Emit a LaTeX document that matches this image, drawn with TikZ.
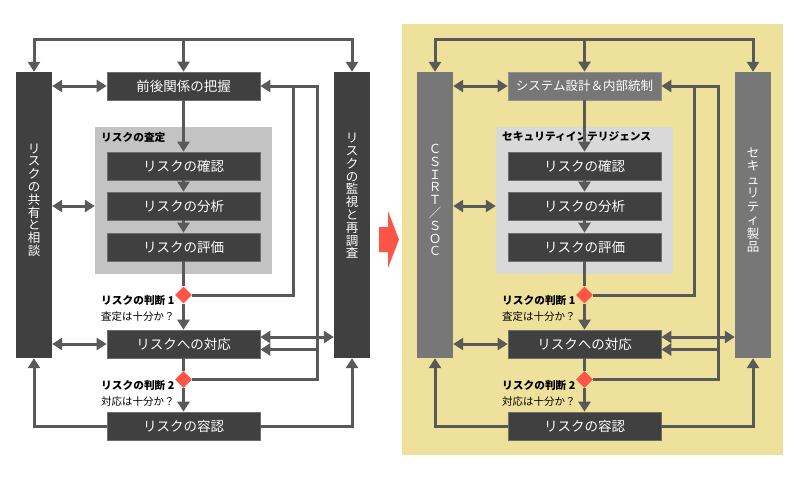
\documentclass[tikz,border=0pt]{standalone}
\usepackage{fontspec}
\setmainfont{Noto Sans CJK JP}
\usetikzlibrary{arrows.meta,shapes.geometric}
\definecolor{boxdark}{HTML}{404040}
\definecolor{boxedge}{HTML}{6E6E6E}
\definecolor{linegray}{HTML}{595959}
\definecolor{panelgray}{HTML}{C3C3C3}
\definecolor{panellight}{HTML}{D9D9D9}
\definecolor{midgray}{HTML}{777777}
\definecolor{warnred}{HTML}{FF5548}
\definecolor{sand}{HTML}{EEE19B}
\begin{document}
\begin{tikzpicture}[x=1pt,y=-1pt,
  dbox/.style={fill=boxdark, draw=boxedge, line width=0.7pt, minimum width=153pt, minimum height=28pt, inner sep=0pt, text=white, font=\fontsize{13.5}{14}\selectfont},
  mbox/.style={dbox, fill=midgray, draw=midgray!80!white},
  barbox/.style={fill=boxdark, minimum width=36pt, minimum height=286pt, inner sep=0pt},
  graybox/.style={fill=panelgray, minimum width=177pt, minimum height=147pt, inner sep=0pt},
  vtext/.style={text=white, align=center, inner sep=0pt, font=\fontsize{12.5}{12.8}\selectfont},
  glabel/.style={anchor=west, inner sep=0pt, font=\fontsize{10.7}{12}\selectfont\bfseries},
  qlabel/.style={anchor=west, inner sep=0pt, font=\fontsize{10.5}{12}\selectfont},
  dmd/.style={diamond, fill=warnred, minimum size=17pt, inner sep=0pt},
  flow/.style={draw=linegray, line width=3pt},
  arr/.style={flow, -{Triangle[width=12pt,length=10pt]}},
  darr/.style={flow, {Triangle[width=12pt,length=10pt]}-{Triangle[width=12pt,length=10pt]}}
]
\useasboundingbox (0,0) rectangle (800,480);
\fill[white] (0,0) rectangle (800,480);
\fill[sand] (402,24) rectangle (783,455);
% red transition arrow
\fill[warnred] (379,227) -- (388,227) -- (388,211) -- (399,239.5) -- (388,268) -- (388,252) -- (379,252) -- cycle;

% ---------------- left panel ----------------
\node[barbox] (aBarL) at (34,215) {};
\node[barbox] (aBarR) at (352,215) {};
\node[vtext] (aBarLt) at (34,200) {リ\\ス\\ク\\の\\共\\有\\と\\相\\談};
\node[vtext] (aBarRt) at (352,196) {リ\\ス\\ク\\の\\監\\視\\と\\再\\調\\査};
\node[dbox] (aTop) at (183.5,86) {前後関係の把握};
\node[graybox] (aGray) at (183.5,200.5) {};
\node[glabel] (aGl) at (101,137) {リスクの査定};
\node[dbox] (aC1) at (183.5,166) {リスクの確認};
\node[dbox] (aC2) at (183.5,206) {リスクの分析};
\node[dbox] (aC3) at (183.5,247) {リスクの評価};
\node[dmd] (aD1) at (183.5,295) {};
\node[glabel] (aJ1) at (101,300) {リスクの判断 1};
\node[qlabel] (aQ1) at (101,317) {査定は十分か？};
\node[dbox] (aResp) at (183.5,344) {リスクへの対応};
\node[dmd] (aD2) at (183.5,379.5) {};
\node[glabel] (aJ2) at (101,385.5) {リスクの判断 2};
\node[qlabel] (aQ2) at (101,402) {対応は十分か？};
\node[dbox] (aAcc) at (183.5,426) {リスクの容認};

\coordinate (aTL) at (34,39);
\coordinate (aTR) at (352,39);
\coordinate (aV1) at (293,86);
\coordinate (aV2) at (317.5,86);
\draw[darr] (aBarL.north) -- (aTL) -- (aTR) -- (aBarR.north);
\draw[arr] (aTop.north |- aTL) -- (aTop.north);
\draw[darr] (aBarL.east |- aTop.west) -- (aTop.west);
\draw[darr] (aBarL.east |- aC2.west) -- (aGray.west |- aC2.west);
\draw[darr] (aBarL.east |- aResp.west) -- (aResp.west);
\draw[arr] (aTop.south) -- (aC1.north);
\draw[arr] (aC1.south) -- (aC2.north);
\draw[arr] (aC2.south) -- (aC3.north);
\draw[flow] (aC3.south) -- (aD1.north);
\draw[arr] (aD1.south) -- (aResp.north);
\draw[flow] (aResp.south) -- (aD2.north);
\draw[arr] (aD2.south) -- (aAcc.north);
\draw[flow] (aD1.east) -- (aD1.east -| aV1) -- (aV1);
\draw[arr] (aD2.east) -- (aD2.east -| aV2) -- (aV2) -- (aTop.east);
\draw[darr] (aResp.east |- 0,337) -- (aBarR.west |- 0,337);
\draw[arr] (aV2 |- 0,349.5) -- (aResp.east |- 0,349.5);
\draw[arr] (aAcc.west) -- (aAcc.west -| aBarL) -- (aBarL.south);
\draw[arr] (aAcc.east) -- (aAcc.east -| aBarR) -- (aBarR.south);

% ---------------- right panel ----------------
\begin{scope}[xshift=401pt]
\node[barbox, fill=midgray] (bBarL) at (34,215) {};
\node[barbox, fill=midgray] (bBarR) at (352,215) {};
\node[vtext] (bBarLt) at (34,200) {Ｃ\\Ｓ\\Ｉ\\Ｒ\\Ｔ\\／\\Ｓ\\Ｏ\\Ｃ};
\node[vtext, font=\fontsize{12.5}{13.5}\selectfont] (bBarRt) at (352,200) {セ\\キ\\ュ\\リ\\テ\\ィ\\製\\品};
\node[mbox, font=\fontsize{12.5}{14}\selectfont] (bTop) at (183.5,86) {システム設計＆内部統制};
\node[graybox, fill=panellight] (bGray) at (183.5,200.5) {};
\node[glabel] (bGl) at (101,137) {セキュリティインテリジェンス};
\node[dbox] (bC1) at (183.5,166) {リスクの確認};
\node[dbox] (bC2) at (183.5,206) {リスクの分析};
\node[dbox] (bC3) at (183.5,247) {リスクの評価};
\node[dmd] (bD1) at (183.5,295) {};
\node[glabel] (bJ1) at (101,300) {リスクの判断 1};
\node[qlabel] (bQ1) at (101,317) {査定は十分か？};
\node[dbox] (bResp) at (183.5,344) {リスクへの対応};
\node[dmd] (bD2) at (183.5,379.5) {};
\node[glabel] (bJ2) at (101,385.5) {リスクの判断 2};
\node[qlabel] (bQ2) at (101,402) {対応は十分か？};
\node[dbox] (bAcc) at (183.5,426) {リスクの容認};

\coordinate (bTL) at (34,39);
\coordinate (bTR) at (352,39);
\coordinate (bV1) at (293,86);
\coordinate (bV2) at (317.5,86);
\draw[darr] (bBarL.north) -- (bTL) -- (bTR) -- (bBarR.north);
\draw[arr] (bTop.north |- bTL) -- (bTop.north);
\draw[darr] (bBarL.east |- bTop.west) -- (bTop.west);
\draw[darr] (bBarL.east |- bC2.west) -- (bGray.west |- bC2.west);
\draw[darr] (bBarL.east |- bResp.west) -- (bResp.west);
\draw[arr] (bTop.south) -- (bC1.north);
\draw[arr] (bC1.south) -- (bC2.north);
\draw[arr] (bC2.south) -- (bC3.north);
\draw[flow] (bC3.south) -- (bD1.north);
\draw[arr] (bD1.south) -- (bResp.north);
\draw[flow] (bResp.south) -- (bD2.north);
\draw[arr] (bD2.south) -- (bAcc.north);
\draw[flow] (bD1.east) -- (bD1.east -| bV1) -- (bV1);
\draw[arr] (bD2.east) -- (bD2.east -| bV2) -- (bV2) -- (bTop.east);
\draw[darr] (bResp.east |- 0,337) -- (bBarR.west |- 0,337);
\draw[arr] (bV2 |- 0,349.5) -- (bResp.east |- 0,349.5);
\draw[arr] (bAcc.west) -- (bAcc.west -| bBarL) -- (bBarL.south);
\draw[arr] (bAcc.east) -- (bAcc.east -| bBarR) -- (bBarR.south);
\end{scope}
\end{tikzpicture}
\end{document}
